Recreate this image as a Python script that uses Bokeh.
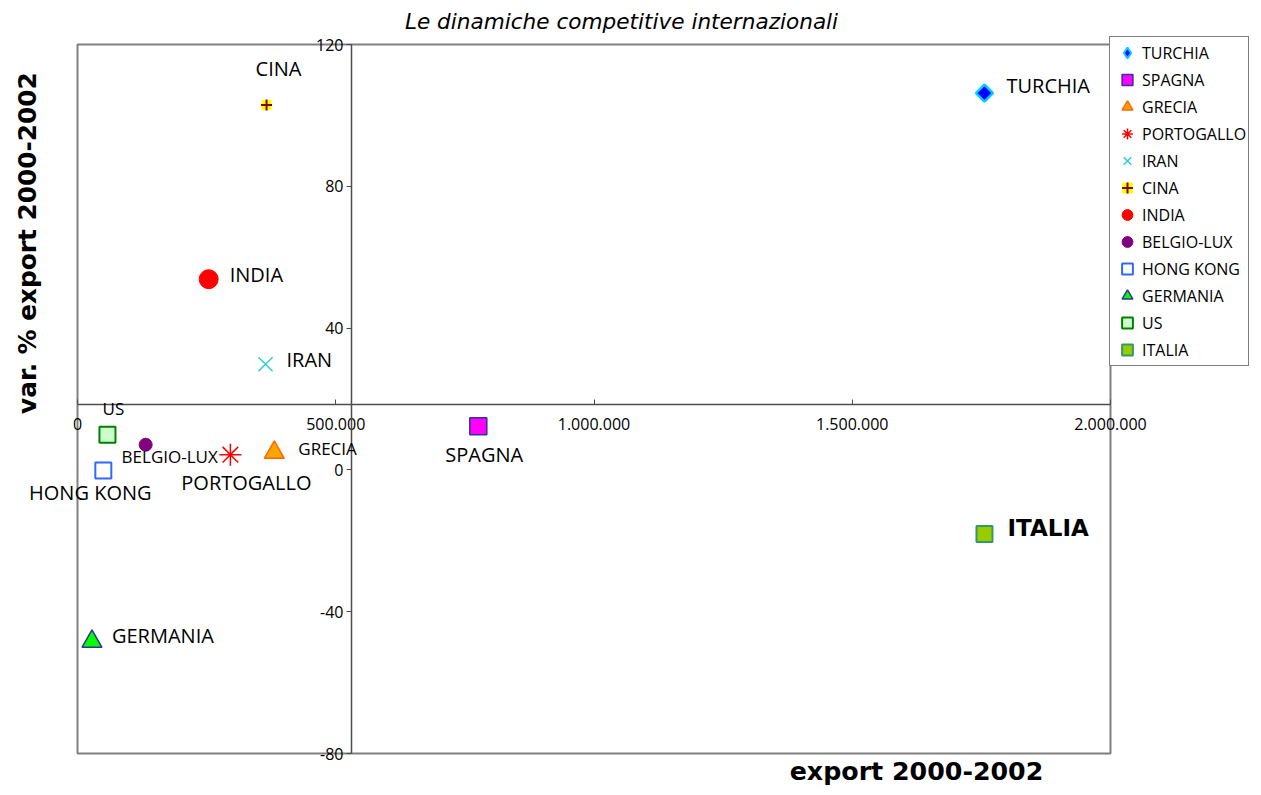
import math
from bokeh.plotting import figure
from bokeh.models import (ColumnDataSource, FixedTicker, Label, LabelSet, Legend,
                          LegendItem, BoxAnnotation)
from bokeh.embed import file_html
from bokeh.resources import INLINE

# ---------------- data ----------------
countries = ["TURCHIA", "SPAGNA", "GRECIA", "PORTOGALLO", "IRAN", "CINA",
             "INDIA", "BELGIO-LUX", "HONG KONG", "GERMANIA", "US", "ITALIA"]
export_2000_2002 = [1756000, 776000, 381000, 296000, 364000, 366000,
                    254000, 132000, 50000, 28000, 58000, 1756000]
var_pct_export = [106.3, 12.3, 4.9, 4.3, 29.8, 102.9,
                  53.8, 7.1, -0.2, -48.4, 9.9, -18.1]

x_tick_values = [0, 500000, 1000000, 1500000, 2000000]
x_tick_labels = ["0", "500.000", "1.000.000", "1.500.000", "2.000.000"]
y_tick_values = [-80, -40, 0, 40, 80, 120]
y_tick_labels = ["-80", "-40", "0", "40", "80", "120"]

x_min, x_max = 0, 2000000      # plot area extent
y_min, y_max = -80, 120
x_axis_cross = 530500          # value of x where the vertical axis crosses
y_axis_cross = 18.5            # value of y where the horizontal axis crosses

title_text = "Le dinamiche competitive internazionali"
x_title = "export 2000-2002"
y_title = "var. % export 2000-2002"

# ---------------- layout (pixels) ----------------
W, H = 1258, 792
area_left, area_right, area_top, area_bottom = 77, 1110, 44, 753
ux = (x_max - x_min) / (area_right - area_left)
uy = (y_max - y_min) / (area_bottom - area_top)
xr = (x_min - area_left * ux, x_max + (W - area_right) * ux)
yr = (y_min - (H - area_bottom) * uy, y_max + area_top * uy)

# ---------------- styles ----------------
marker_styles = {
    "TURCHIA": [dict(marker="square", size=12, angle=math.pi / 4, fill_color="#0000FF", line_color="#00CCFF", line_width=2.5)],
    "SPAGNA": [dict(marker="square", size=17, fill_color="#FF00FF", line_color="#333399", line_width=1.5)],
    "GRECIA": [dict(marker="triangle", size=20, fill_color="#FFA500", line_color="#FF6600", line_width=1.5)],
    "PORTOGALLO": [dict(marker="asterisk", size=22, line_color="#FF0000", line_width=1.5)],
    "IRAN": [dict(marker="x", size=20, line_color="#33CCCC", line_width=1.5)],
    "CINA": [dict(marker="square", size=10, fill_color="#FFFF00", line_color=None),
             dict(marker="cross", size=11, line_color="#800000", line_width=2)],
    "INDIA": [dict(marker="circle", size=19, fill_color="#FF0000", line_color="#FF0000")],
    "BELGIO-LUX": [dict(marker="circle", size=13, fill_color="#800080", line_color="#800080")],
    "HONG KONG": [dict(marker="square", size=16, fill_color="#FFFFFF", line_color="#3366FF", line_width=2)],
    "GERMANIA": [dict(marker="triangle", size=20, fill_color="#00FF00", line_color="#333399", line_width=1.5)],
    "US": [dict(marker="square", size=16, fill_color="#CCFFCC", line_color="#008000", line_width=2)],
    "ITALIA": [dict(marker="square", size=16, fill_color="#99CC00", line_color="#339966", line_width=2)],
}
# legend-only look for TURCHIA (the legend does not rotate markers)
legend_proxy_styles = {
    "TURCHIA": dict(marker="diamond", fill_color="#0000FF", line_color="#00CCFF", line_width=2),
}

label_dx = [22, 6, 24, 16, 21, 12, 21, 24, -13, 20, 6, 23]
label_dy = [-8, 28, -4, 28, -5, -37, -5, 12, 22, -6, -26, -6]
label_align = ["left", "center", "left", "center", "left", "center",
               "left", "center", "center", "left", "center", "left"]
label_size = ["20px", "20px", "17px", "20px", "20px", "20px",
              "20px", "17px", "20px", "20px", "17px", "23px"]
label_style = ["normal"] * 11 + ["bold"]
label_font = ["Open Sans"] * 11 + ["DejaVu Sans"]

# ---------------- figure ----------------
p = figure(frame_width=W, frame_height=H, min_border=0,
           x_range=xr, y_range=yr,
           output_backend="svg", toolbar_location=None)
p.title.visible = False
p.xgrid.grid_line_color = None
p.ygrid.grid_line_color = None
p.outline_line_color = None
p.background_fill_color = "white"
p.border_fill_color = "white"

p.add_layout(BoxAnnotation(left=x_min, right=x_max, bottom=y_min, top=y_max,
                           fill_color=None, fill_alpha=0, line_color="#808080",
                           line_alpha=1.0, line_width=2, level="underlay"))

xa = p.xaxis[0]
xa.fixed_location = y_axis_cross
xa.bounds = (x_min, x_max)
xa.ticker = FixedTicker(ticks=x_tick_values)
xa.major_label_overrides = {v: s for v, s in zip(x_tick_values, x_tick_labels)}
xa.major_tick_in = 5
xa.major_tick_out = 0
xa.minor_tick_line_color = None
xa.axis_line_color = "#4d4d4d"
xa.axis_line_width = 1.5
xa.major_tick_line_color = "#4d4d4d"
xa.major_label_text_font = "Open Sans"
xa.major_label_text_font_size = "16px"
xa.major_label_text_color = "black"
xa.major_label_standoff = 14

ya = p.yaxis[0]
ya.fixed_location = x_axis_cross
ya.bounds = (y_min, y_max)
ya.ticker = FixedTicker(ticks=y_tick_values)
ya.major_label_overrides = {v: s for v, s in zip(y_tick_values, y_tick_labels)}
ya.major_tick_in = 0
ya.major_tick_out = 5
ya.minor_tick_line_color = None
ya.axis_line_color = "#4d4d4d"
ya.axis_line_width = 1.5
ya.major_tick_line_color = "#4d4d4d"
ya.major_label_text_font = "Open Sans"
ya.major_label_text_font_size = "16px"
ya.major_label_text_color = "black"
ya.major_label_standoff = 3

# points
items = []
for i, name in enumerate(countries):
    rs = []
    for st in marker_styles[name]:
        r = p.scatter(x=[export_2000_2002[i]], y=[var_pct_export[i]], **st)
        rs.append(r)
    if name in legend_proxy_styles:
        proxy = p.scatter(x=[float("nan")], y=[float("nan")], size=1,
                          **legend_proxy_styles[name])
        rs = [proxy]
    items.append(LegendItem(label=name, renderers=rs))

# data labels
lab_src = ColumnDataSource(dict(
    x=export_2000_2002, y=var_pct_export, text=countries,
    dx=label_dx, dy=[-d for d in label_dy], align=label_align,
    size=label_size, style=label_style, font=label_font))
p.add_layout(LabelSet(x="x", y="y", text="text", source=lab_src,
                      x_offset="dx", y_offset="dy", text_align="align",
                      text_baseline="middle", text_font_size="size",
                      text_font_style="style", text_font="font", text_color="black"))

legend = Legend(items=items, location=(1109, H - 366), orientation="vertical",
                border_line_color="black", border_line_width=1,
                background_fill_color="white", background_fill_alpha=1.0,
                label_text_font="Open Sans", label_text_font_size="16px",
                label_text_color="black",
                glyph_width=30, glyph_height=27, label_height=27,
                spacing=0, padding=2, label_standoff=0, margin=0)
p.add_layout(legend)

# titles
p.add_layout(Label(x=621, y=H - 21, x_units="screen", y_units="screen", text=title_text,
                   text_font="DejaVu Sans", text_font_style="italic", text_font_size="21.6px",
                   text_align="center", text_baseline="middle", text_color="black"))
p.add_layout(Label(x=26.5, y=H - 242.5, x_units="screen", y_units="screen", text=y_title,
                   angle=math.pi / 2,
                   text_font="DejaVu Sans", text_font_style="bold", text_font_size="24.8px",
                   text_align="center", text_baseline="middle", text_color="black"))
p.add_layout(Label(x=916, y=H - 771, x_units="screen", y_units="screen", text=x_title,
                   text_font="DejaVu Sans", text_font_style="bold", text_font_size="25.3px",
                   text_align="center", text_baseline="middle", text_color="black"))

open("out.html", "w").write(file_html(p, INLINE))
